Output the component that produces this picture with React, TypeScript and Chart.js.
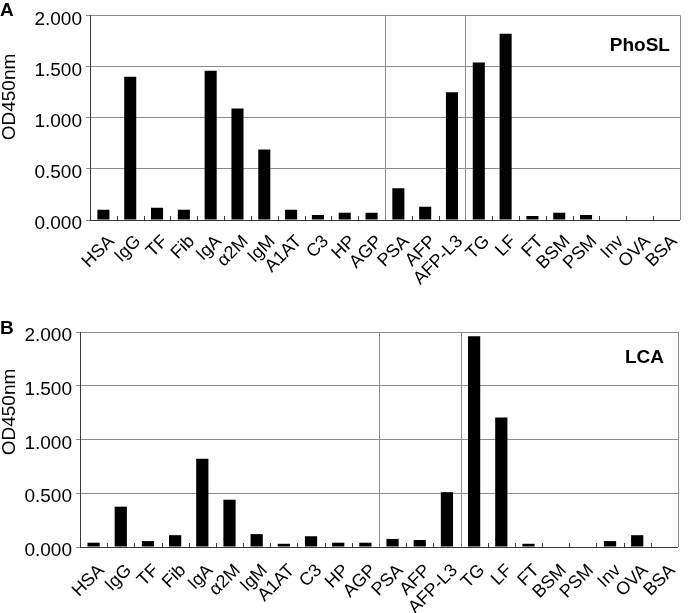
import React, { useEffect, useRef } from "react";
import { Chart, registerables } from "chart.js";

Chart.register(...registerables);

const categories = [
  "HSA", "IgG", "TF", "Fib", "IgA", "α2M", "IgM", "A1AT", "C3", "HP", "AGP",
  "PSA", "AFP", "AFP-L3", "TG", "LF", "FT", "BSM", "PSM", "Inv", "OVA", "BSA",
];
const phoslValues = [
  0.1, 1.4, 0.12, 0.1, 1.46, 1.09, 0.69, 0.1, 0.05, 0.07, 0.07,
  0.31, 0.13, 1.25, 1.54, 1.82, 0.04, 0.07, 0.05, 0, 0, 0,
];
const lcaValues = [
  0.04, 0.375, 0.055, 0.11, 0.82, 0.44, 0.12, 0.03, 0.1, 0.04, 0.04,
  0.075, 0.065, 0.51, 1.96, 1.205, 0.03, 0, 0, 0.055, 0.11, 0,
];
const yTickValues = [0, 0.5, 1, 1.5, 2];
const separatorBoundaries = [11, 14];
const yAxisTitle = "OD450nm";

const FONT = "'Liberation Sans', Arial, Helvetica, sans-serif";
const GRID = "#8c8c8c";
const AXIS = "#3a3a3a";

type PanelProps = {
  values: number[];
  letter: string;
  lectin: string;
  height: number;
  yAxisWidth: number;
  padTop: number;
  padRight: number;
  xAxisHeight: number;
  xLabelPad: number;
  titleCenterY: number;
  letterBaseline: number;
  lectinInset: number;
  lectinBaseline: number;
};

function Panel(p: PanelProps) {
  const ref = useRef<HTMLCanvasElement | null>(null);
  useEffect(() => {
    if (!ref.current) return;
    const deco = {
      id: "deco",
      afterDraw(chart: any) {
        const { ctx, chartArea } = chart;
        const { right, top, bottom } = chartArea;
        const x = chart.scales.x;
        const px = (v: number) => Math.round(v) + 0.5;
        ctx.save();
        ctx.lineWidth = 1;
        ctx.strokeStyle = AXIS;
        for (let i = 1; i < categories.length; i++) {
          const bx = px(x.getPixelForValue(i - 0.5));
          ctx.beginPath();
          ctx.moveTo(bx, bottom - 4);
          ctx.lineTo(bx, bottom);
          ctx.stroke();
        }
        ctx.strokeStyle = GRID;
        for (const b of separatorBoundaries) {
          const bx = px(x.getPixelForValue(b - 0.5));
          ctx.beginPath();
          ctx.moveTo(bx, top);
          ctx.lineTo(bx, bottom);
          ctx.stroke();
        }
        ctx.beginPath();
        ctx.moveTo(px(right), top);
        ctx.lineTo(px(right), bottom);
        ctx.stroke();
        ctx.fillStyle = "#000";
        ctx.font = `bold 19px ${FONT}`;
        ctx.textAlign = "left";
        ctx.textBaseline = "alphabetic";
        ctx.fillText(p.letter, 0, p.letterBaseline);
        ctx.font = `bold 19px ${FONT}`;
        ctx.textAlign = "right";
        ctx.fillText(p.lectin, right - p.lectinInset, top + p.lectinBaseline);
        ctx.font = `19px ${FONT}`;
        ctx.textAlign = "center";
        ctx.textBaseline = "alphabetic";
        ctx.translate(15, p.titleCenterY);
        ctx.rotate(-Math.PI / 2);
        ctx.fillText(yAxisTitle, 0, 0);
        ctx.restore();
      },
    };
    const chart = new Chart(ref.current, {
      type: "bar",
      data: {
        labels: categories,
        datasets: [
          {
            data: p.values,
            backgroundColor: "#000",
            borderWidth: 0,
            barPercentage: 0.45,
            categoryPercentage: 1,
          },
        ],
      },
      options: {
        animation: false,
        responsive: false,
        maintainAspectRatio: false,
        layout: { padding: { top: p.padTop, right: p.padRight, left: 0, bottom: 0 } },
        plugins: { legend: { display: false }, tooltip: { enabled: false } },
        scales: {
          x: {
            offset: true,
            grid: { display: false, drawTicks: false },
            border: { display: true, color: AXIS, width: 1 },
            ticks: {
              autoSkip: false,
              maxRotation: 45,
              minRotation: 45,
              color: "#000",
              font: { family: FONT, size: 18 },
              padding: p.xLabelPad,
              labelOffset: 8,
            },
            afterFit: (s: any) => {
              s.height = p.xAxisHeight;
            },
          },
          y: {
            min: 0,
            max: 2,
            afterBuildTicks: (s: any) => {
              s.ticks = yTickValues.map((v) => ({ value: v }));
            },
            grid: { color: GRID, tickLength: 4, tickColor: GRID },
            border: { display: true, color: AXIS, width: 1 },
            ticks: {
              color: "#000",
              font: { family: FONT, size: 19 },
              padding: 4,
              labelOffset: 4,
              callback: (v: any) => Number(v).toFixed(3),
            },
            afterFit: (s: any) => {
              s.width = p.yAxisWidth;
            },
          },
        },
      },
      plugins: [deco],
    });
    return () => chart.destroy();
  }, []);
  return (
    <canvas
      ref={ref}
      width={693}
      height={p.height}
      style={{ display: "block", width: 693, height: p.height }}
    />
  );
}

export default function App() {
  return (
    <div style={{ position: "absolute", left: 0, top: 0, width: 693, height: 613, background: "#fff" }}>
      <Panel
        values={phoslValues}
        letter="A"
        lectin="PhoSL"
        height={300}
        yAxisWidth={90}
        padTop={5}
        padRight={10}
        xAxisHeight={80}
        xLabelPad={11}
        titleCenterY={97}
        letterBaseline={16}
        lectinInset={10}
        lectinBaseline={36}
      />
      <Panel
        values={lcaValues}
        letter="B"
        lectin="LCA"
        height={313}
        yAxisWidth={80}
        padTop={32}
        padRight={15}
        xAxisHeight={66}
        xLabelPad={13}
        titleCenterY={112}
        letterBaseline={34}
        lectinInset={14}
        lectinBaseline={31}
      />
    </div>
  );
}
